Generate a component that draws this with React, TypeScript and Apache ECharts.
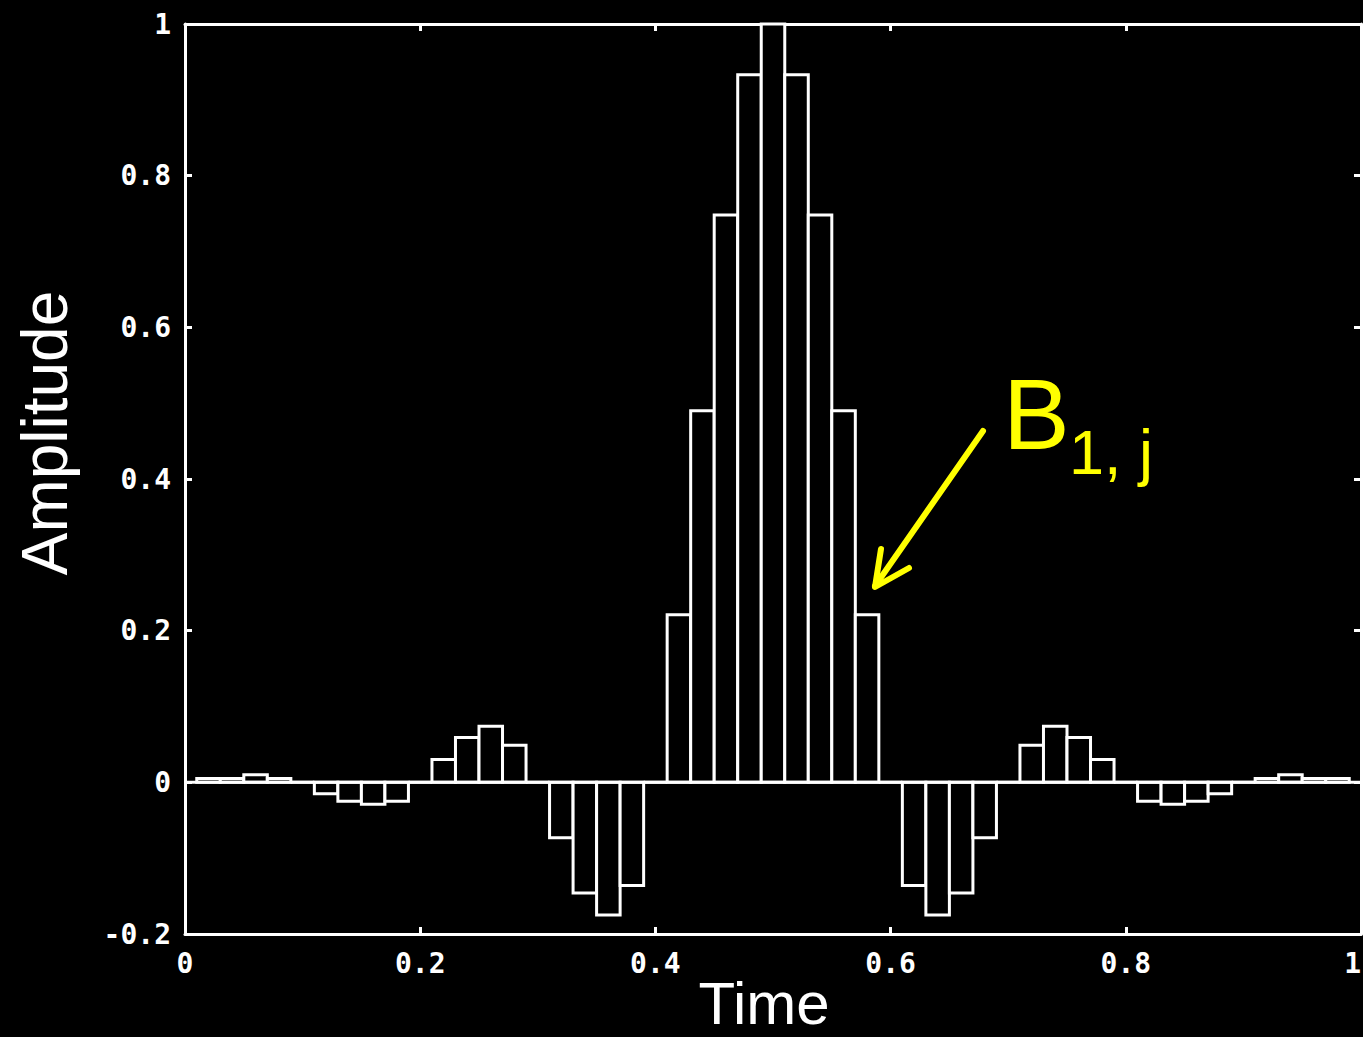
import React, { useEffect, useRef } from "react";
import * as echarts from "echarts";

// Bin centres (time) and amplitudes of each bin
const binCenters = [
  0.02, 0.04, 0.06, 0.08, 0.1, 0.12, 0.14, 0.16, 0.18, 0.2,
  0.22, 0.24, 0.26, 0.28, 0.3, 0.32, 0.34, 0.36, 0.38, 0.4,
  0.42, 0.44, 0.46, 0.48, 0.5, 0.52, 0.54, 0.56, 0.58, 0.6,
  0.62, 0.64, 0.66, 0.68, 0.7, 0.72, 0.74, 0.76, 0.78, 0.8,
  0.82, 0.84, 0.86, 0.88, 0.9, 0.92, 0.94, 0.96, 0.98,
];
const amplitudes = [
  0.005, 0.005, 0.01, 0.005, 0, -0.015, -0.025, -0.029, -0.025, 0,
  0.03, 0.059, 0.074, 0.049, 0, -0.073, -0.146, -0.175, -0.136, 0,
  0.221, 0.49, 0.748, 0.933, 1.0, 0.933, 0.748, 0.49, 0.221, 0,
  -0.136, -0.175, -0.146, -0.073, 0, 0.049, 0.074, 0.059, 0.03, 0,
  -0.025, -0.029, -0.025, -0.015, 0, 0.005, 0.01, 0.005, 0.005,
];
const binWidth = 0.02;
const xRange = [0, 1];
const yRange = [-0.2, 1];
const tickStep = 0.2;
const zeroLine = [
  [0, 0],
  [1, 0],
];
const xTitle = "Time";
const yTitle = "Amplitude";
const annotationMain = "B";
const annotationSub = "1, j";

const WHITE = "#ffffff";
const YELLOW = "#ffff00";
const TICK_FONT = "'DejaVu Sans Mono', monospace";
const TITLE_FONT = "'Liberation Sans', Arial, sans-serif";

const fmt = (v: number) => String(Math.round(v * 10) / 10);

export default function App() {
  const ref = useRef<HTMLDivElement>(null);
  useEffect(() => {
    if (!ref.current) return;
    const chart = echarts.init(ref.current, null, { renderer: "svg" });
    const axisLine = { show: true, onZero: false, lineStyle: { color: WHITE, width: 3 } };
    const axisTick = { show: true, inside: true, length: 7, lineStyle: { color: WHITE, width: 3 } };
    const label = {
      color: WHITE,
      fontFamily: TICK_FONT,
      fontWeight: "bold" as const,
      fontSize: 28,
      formatter: fmt,
    };
    chart.setOption({
      animation: false,
      backgroundColor: "#000000",
      grid: {
        left: 185,
        right: 2,
        top: 24,
        bottom: 103,
        containLabel: false,
        outerBoundsMode: "none",
      },
      xAxis: [
        {
          type: "value",
          min: xRange[0],
          max: xRange[1],
          interval: tickStep,
          position: "bottom",
          axisLine,
          axisTick,
          splitLine: { show: false },
          axisLabel: { ...label, margin: 15, alignMaxLabel: "right" },
        },
        {
          type: "value",
          min: xRange[0],
          max: xRange[1],
          interval: tickStep,
          position: "top",
          axisLine,
          axisTick,
          splitLine: { show: false },
          axisLabel: { show: false },
        },
      ],
      yAxis: [
        {
          type: "value",
          min: yRange[0],
          max: yRange[1],
          interval: tickStep,
          position: "left",
          axisLine,
          axisTick,
          splitLine: { show: false },
          axisLabel: { ...label, margin: 14 },
        },
        {
          type: "value",
          min: yRange[0],
          max: yRange[1],
          interval: tickStep,
          position: "right",
          axisLine,
          axisTick,
          splitLine: { show: false },
          axisLabel: { show: false },
        },
      ],
      series: [
        {
          type: "custom",
          xAxisIndex: 0,
          yAxisIndex: 0,
          data: binCenters.map((c, i) => [c, amplitudes[i]]),
          renderItem: (_params: any, api: any) => {
            const x = api.value(0);
            const y = api.value(1);
            const p1 = api.coord([x - binWidth / 2, y]);
            const p2 = api.coord([x + binWidth / 2, 0]);
            return {
              type: "rect",
              shape: {
                x: p1[0],
                y: Math.min(p1[1], p2[1]),
                width: p2[0] - p1[0],
                height: Math.abs(p2[1] - p1[1]),
              },
              style: { fill: "#000000", stroke: WHITE, lineWidth: 3 },
            };
          },
          z: 2,
        },
        {
          type: "line",
          xAxisIndex: 0,
          yAxisIndex: 0,
          data: zeroLine,
          symbol: "none",
          lineStyle: { color: WHITE, width: 3 },
          z: 3,
        },
      ],
      graphic: [
        {
          type: "text",
          x: 764,
          y: 1003,
          z: 10,
          style: {
            text: xTitle,
            fill: WHITE,
            font: `60px ${TITLE_FONT}`,
            align: "center",
            verticalAlign: "middle",
          },
        },
        {
          type: "text",
          x: 45,
          y: 433,
          rotation: Math.PI / 2,
          z: 10,
          style: {
            text: yTitle,
            fill: WHITE,
            font: `64px ${TITLE_FONT}`,
            align: "center",
            verticalAlign: "middle",
          },
        },
        {
          type: "text",
          left: 1003,
          top: 364,
          z: 10,
          style: {
            text: annotationMain,
            fill: YELLOW,
            font: `100px ${TITLE_FONT}`,
          },
        },
        {
          type: "text",
          left: 1069,
          top: 420,
          z: 10,
          style: {
            text: annotationSub,
            fill: YELLOW,
            font: `63px ${TITLE_FONT}`,
          },
        },
        {
          type: "line",
          z: 10,
          shape: { x1: 983, y1: 431, x2: 875, y2: 586 },
          style: { stroke: YELLOW, lineWidth: 6, lineCap: "round" },
        },
        {
          type: "polyline",
          z: 10,
          shape: {
            points: [
              [881, 549],
              [875, 587],
              [909, 568],
            ],
          },
          style: { stroke: YELLOW, lineWidth: 6, lineCap: "round", lineJoin: "round", fill: "none" },
        },
      ],
    });
    return () => chart.dispose();
  }, []);
  return (
    <div
      ref={ref}
      style={{ position: "fixed", left: 0, top: 0, width: 1363, height: 1037, background: "#000" }}
    />
  );
}
